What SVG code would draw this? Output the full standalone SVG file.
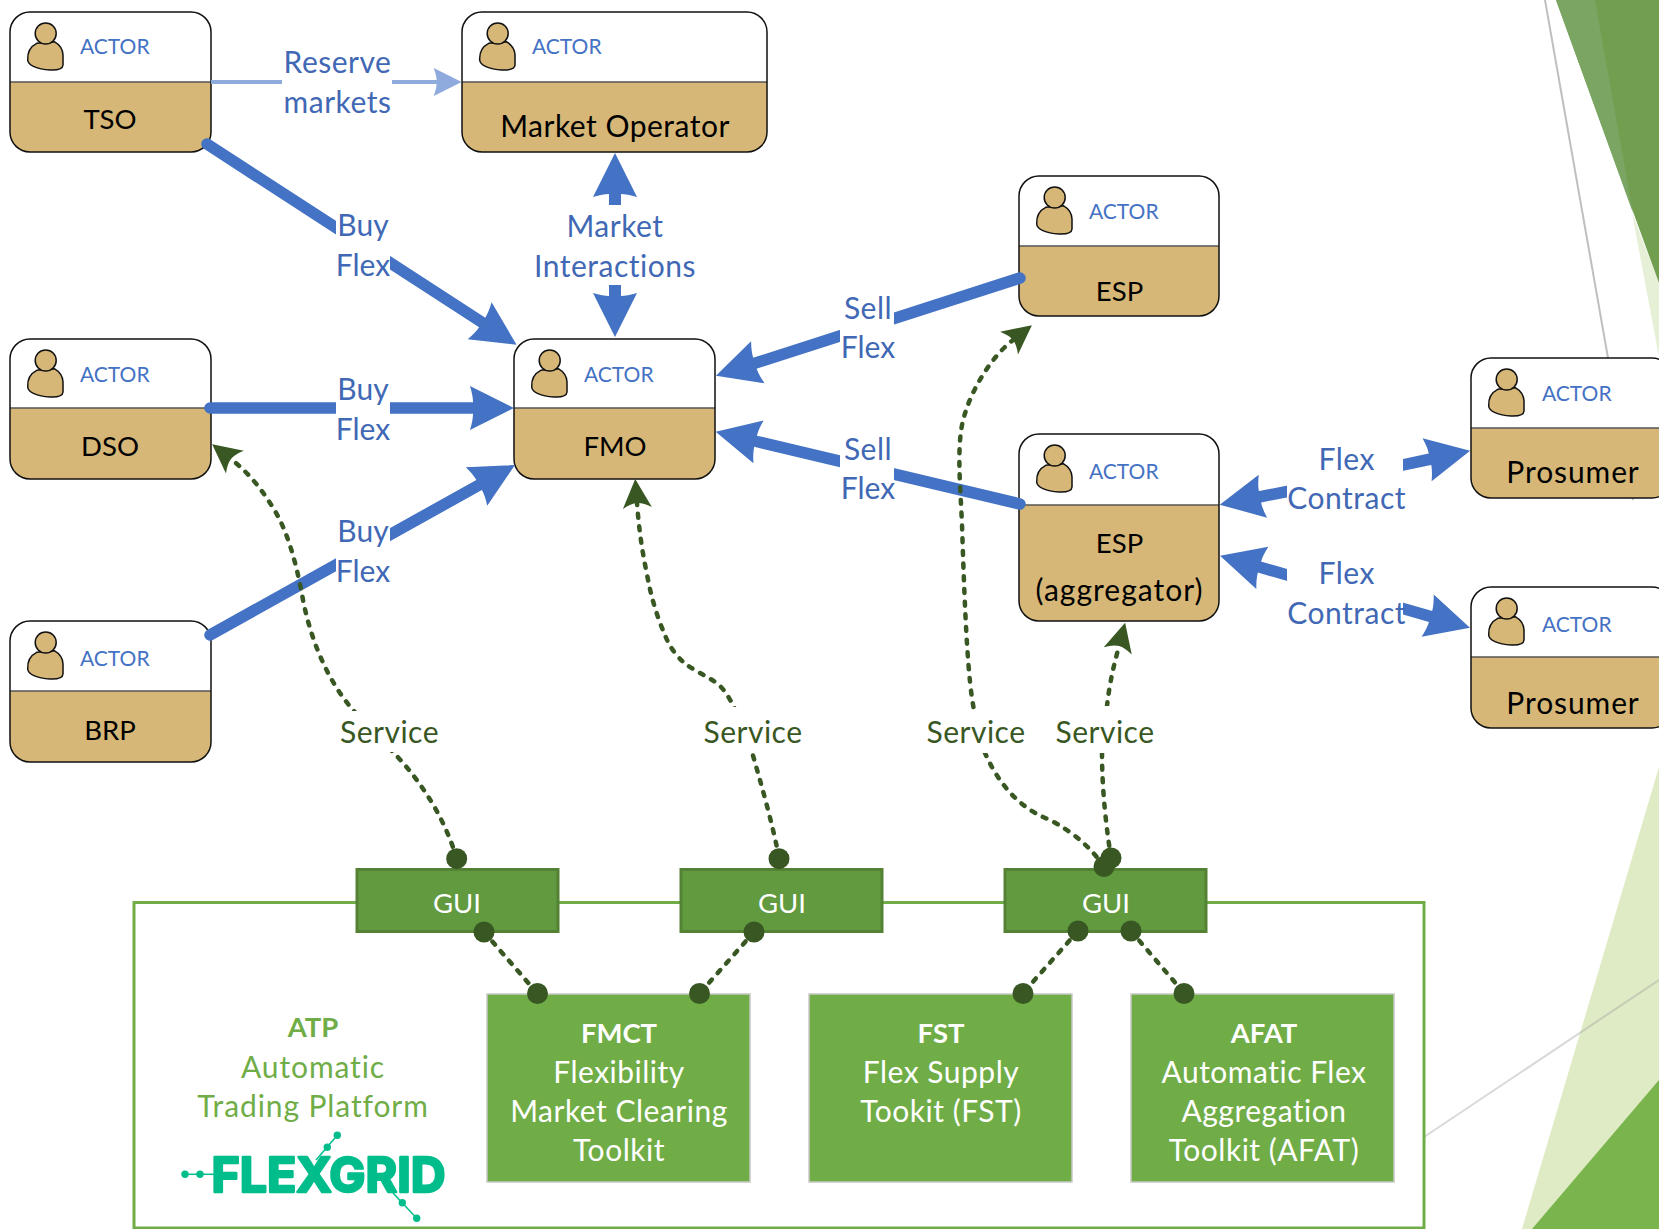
<svg xmlns="http://www.w3.org/2000/svg" width="1659" height="1229" viewBox="0 0 1659 1229">
<style>
text{font-family:Lato,"Liberation Sans",sans-serif;text-anchor:middle;transform:translateY(1px)}
.nm,.lb,.sv,.tl,.at{font-size:30px;letter-spacing:.5px}
.nm{fill:#000}
.ac{font-size:21px;fill:#4472c4;text-anchor:start;transform:translate(-1px,1px)}
.lb{fill:#4168b4}
.sv{fill:#385723}
.tl{fill:#fff}
.at{fill:#70ad47}
.b{font-weight:700}
.u{font-size:27.5px;letter-spacing:0}
.wh{fill:#fff}
.top{fill:#fff}
.tan{fill:#d6b777}
.ol{fill:none;stroke:#111;stroke-width:1.5}
.dv{stroke:#555;stroke-width:1.5}
.bl{fill:none;stroke:#4472c4;stroke-width:11.5;stroke-linecap:round;marker-end:url(#ab)}
.bt{fill:none;stroke:#4472c4;stroke-width:11.5;marker-end:url(#ab)}
.ds{fill:none;stroke:#385723;stroke-width:4.5;stroke-dasharray:4 8.7;stroke-linecap:round}
.dt{fill:#385723}
.gui{fill:#619a3f;stroke:#548235;stroke-width:3}
.tool{fill:#70ad47;stroke:#c8c8c8;stroke-width:1.5}
.lg{fill:#00bd8b}
.lgl{stroke:#00bd8b;stroke-width:1.5}
</style>
<defs>
<marker id="ab" markerUnits="userSpaceOnUse" viewBox="-1 -24 46 48" refX="4" refY="0" markerWidth="46" markerHeight="48" orient="auto-start-reverse"><path fill="#4472c4" d="M44 0L0-22Q3-12 3-6L3 6Q3 12 0 22Z"/></marker>
<marker id="ar" markerUnits="userSpaceOnUse" viewBox="-1 -16 31 32" refX="4" refY="0" markerWidth="31" markerHeight="32" orient="auto"><path fill="#8faadc" d="M28 0L0-14Q3-6 3 0Q3 6 0 14Z"/></marker>
<marker id="ag" markerUnits="userSpaceOnUse" viewBox="-1 -16 31 32" refX="5" refY="0" markerWidth="31" markerHeight="32" orient="auto"><path fill="#385723" d="M29 0L0-14.5Q5-6 5 0Q5 6 0 14.5Z"/></marker>
<g id="person"><path fill="#d6b777" stroke="#111" stroke-width="1.5" d="M26.7 31.3C20 34.7 17.3 41.3 17.7 48C18 53 26.7 57.3 40 58C46.7 58.3 52.7 57.3 53 53L53 43C52.7 36.3 48.3 32 44.3 29.7Z"/><circle cx="35.7" cy="21.5" r="10.5" fill="#d6b777" stroke="#111" stroke-width="1.5"/></g>
</defs>
<rect width="1659" height="1229" fill="#fff"/>
<g id="background">
<polygon points="1632,213 1659,357 1659,283" fill="#e6f0d6"/>
<polygon points="1556,0 1659,283 1659,0" fill="#719e4f"/>
<polygon points="1556,0 1595,0 1633,213" fill="#7aa563"/>
<line x1="1545" y1="0" x2="1633" y2="500" stroke="#bfbfbf" stroke-width="2"/>
<polygon points="1659,767 1659,1229 1522,1229" fill="#deebc4"/>
<polygon points="1659,1080 1659,1229 1532,1229" fill="#7ab44c"/>
<line x1="1424" y1="1137" x2="1659" y2="980" stroke="#a8a8a8" stroke-opacity=".45" stroke-width="2"/>
</g>
<g id="platform">
<rect x="134" y="902.500" width="1290" height="325.500" fill="#fff" stroke="#70ad47" stroke-width="3"/>
<text class="at b u" x="313" y="1036">ATP</text>
<text class="at" x="313" y="1076.500" style="letter-spacing:.9px">Automatic</text>
<text class="at" x="313" y="1116" style="letter-spacing:.9px">Trading Platform</text>
</g>
<g id="flexgrid-logo">
<line class="lgl" x1="185" y1="1174.300" x2="214" y2="1174.300"/>
<line class="lgl" x1="337.300" y1="1135.300" x2="316" y2="1160"/>
<line class="lgl" x1="393" y1="1193" x2="416.700" y2="1218.300"/>
<circle class="lg" cx="185" cy="1174.300" r="3.700"/><circle class="lg" cx="200" cy="1174.300" r="3.700"/>
<circle class="lg" cx="337.300" cy="1135.300" r="3.700"/><circle class="lg" cx="327.300" cy="1147.300" r="3.700"/>
<circle class="lg" cx="402.300" cy="1202.700" r="3.700"/><circle class="lg" cx="416.700" cy="1218.300" r="3.700"/>
<text x="328.500" y="1190.500" font-size="48" font-weight="700" fill="#00bd8b" stroke="#00bd8b" stroke-width="2.500" stroke-linejoin="round" style="font-family:Inter,Lato,sans-serif" textLength="234" lengthAdjust="spacingAndGlyphs">FLEXGRID</text>
</g>
<g id="tso"><rect class="top" x="10" y="12" width="201" height="140" rx="20"/><path class="tan" d="M10 82H211V132a20 20 0 0 1-20 20H30a20 20 0 0 1-20-20Z"/><line class="dv" x1="10" y1="82" x2="211" y2="82"/><rect class="ol" x="10" y="12" width="201" height="140" rx="20"/><use href="#person" x="10" y="12"/><text class="ac" x="81" y="53">ACTOR</text><text class="nm u" x="110" y="128">TSO</text></g>
<g id="market-operator"><rect class="top" x="462" y="12" width="305" height="140" rx="20"/><path class="tan" d="M462 82H767V132a20 20 0 0 1-20 20H482a20 20 0 0 1-20-20Z"/><line class="dv" x1="462" y1="82" x2="767" y2="82"/><rect class="ol" x="462" y="12" width="305" height="140" rx="20"/><use href="#person" x="462" y="12"/><text class="ac" x="533" y="53">ACTOR</text><text class="nm" x="615" y="135.500">Market Operator</text></g>
<g id="esp"><rect class="top" x="1019" y="176" width="200" height="140" rx="20"/><path class="tan" d="M1019 246H1219V296a20 20 0 0 1-20 20H1039a20 20 0 0 1-20-20Z"/><line class="dv" x1="1019" y1="246" x2="1219" y2="246"/><rect class="ol" x="1019" y="176" width="200" height="140" rx="20"/><use href="#person" x="1019" y="176"/><text class="ac" x="1090" y="218">ACTOR</text><text class="nm u" x="1119.500" y="299.500">ESP</text></g>
<g id="dso"><rect class="top" x="10" y="339" width="201" height="140" rx="20"/><path class="tan" d="M10 408H211V459a20 20 0 0 1-20 20H30a20 20 0 0 1-20-20Z"/><line class="dv" x1="10" y1="408" x2="211" y2="408"/><rect class="ol" x="10" y="339" width="201" height="140" rx="20"/><use href="#person" x="10" y="339"/><text class="ac" x="81" y="381">ACTOR</text><text class="nm u" x="110" y="455">DSO</text></g>
<g id="fmo"><rect class="top" x="514" y="339" width="201" height="140" rx="20"/><path class="tan" d="M514 408H715V459a20 20 0 0 1-20 20H534a20 20 0 0 1-20-20Z"/><line class="dv" x1="514" y1="408" x2="715" y2="408"/><rect class="ol" x="514" y="339" width="201" height="140" rx="20"/><use href="#person" x="514" y="339"/><text class="ac" x="585" y="381">ACTOR</text><text class="nm u" x="615" y="455">FMO</text></g>
<g id="brp"><rect class="top" x="10" y="621" width="201" height="141" rx="20"/><path class="tan" d="M10 691H211V742a20 20 0 0 1-20 20H30a20 20 0 0 1-20-20Z"/><line class="dv" x1="10" y1="691" x2="211" y2="691"/><rect class="ol" x="10" y="621" width="201" height="141" rx="20"/><use href="#person" x="10" y="621"/><text class="ac" x="81" y="665">ACTOR</text><text class="nm u" x="110" y="738.500">BRP</text></g>
<g id="esp-aggregator"><rect class="top" x="1019" y="434" width="200" height="187" rx="20"/><path class="tan" d="M1019 505H1219V601a20 20 0 0 1-20 20H1039a20 20 0 0 1-20-20Z"/><line class="dv" x1="1019" y1="505" x2="1219" y2="505"/><rect class="ol" x="1019" y="434" width="200" height="187" rx="20"/><use href="#person" x="1019" y="434"/><text class="ac" x="1090" y="478">ACTOR</text><text class="nm u" x="1119.500" y="552">ESP</text><text class="nm" x="1119.500" y="600" style="letter-spacing:1px">(aggregator)</text></g>
<g id="prosumer-1"><rect class="top" x="1471" y="358" width="201" height="140" rx="20"/><path class="tan" d="M1471 428H1672V478a20 20 0 0 1-20 20H1491a20 20 0 0 1-20-20Z"/><line class="dv" x1="1471" y1="428" x2="1672" y2="428"/><rect class="ol" x="1471" y="358" width="201" height="140" rx="20"/><use href="#person" x="1471" y="358"/><text class="ac" x="1543" y="400">ACTOR</text><text class="nm" x="1573" y="482" style="letter-spacing:.9px">Prosumer</text></g>
<g id="prosumer-2"><rect class="top" x="1471" y="587" width="201" height="141" rx="20"/><path class="tan" d="M1471 657H1672V708a20 20 0 0 1-20 20H1491a20 20 0 0 1-20-20Z"/><line class="dv" x1="1471" y1="657" x2="1672" y2="657"/><rect class="ol" x="1471" y="587" width="201" height="141" rx="20"/><use href="#person" x="1471" y="587"/><text class="ac" x="1543" y="631">ACTOR</text><text class="nm" x="1573" y="713" style="letter-spacing:.9px">Prosumer</text></g>
<g id="gui-1"><rect class="gui" x="357" y="869.500" width="201" height="62"/><text class="tl u" x="457" y="911.500">GUI</text></g>
<g id="gui-2"><rect class="gui" x="681" y="869.500" width="201" height="62"/><text class="tl u" x="782" y="911.500">GUI</text></g>
<g id="gui-3"><rect class="gui" x="1005" y="869.500" width="201" height="62"/><text class="tl u" x="1106" y="911.500">GUI</text></g>
<g id="fmct"><rect class="tool" x="487" y="994" width="263" height="188"/><text class="tl b u" x="619" y="1041.500">FMCT</text><text class="tl" x="619" y="1081.500">Flexibility</text><text class="tl" x="619" y="1121">Market Clearing</text><text class="tl" x="619" y="1160">Toolkit</text></g>
<g id="fst"><rect class="tool" x="809" y="994" width="263" height="188"/><text class="tl b u" x="941" y="1041.500">FST</text><text class="tl" x="941" y="1081.500">Flex Supply</text><text class="tl" x="941" y="1121">Tookit (FST)</text></g>
<g id="afat"><rect class="tool" x="1131" y="994" width="263" height="188"/><text class="tl b u" x="1264" y="1041.500">AFAT</text><text class="tl" x="1264" y="1081.500">Automatic Flex</text><text class="tl" x="1264" y="1121">Aggregation</text><text class="tl" x="1264" y="1160">Toolkit (AFAT)</text></g>
<g id="connectors">
<line x1="211" y1="82" x2="437.700" y2="82" fill="none" stroke="#8faadc" stroke-width="4" marker-end="url(#ar)"/>
<line class="bl" x1="207" y1="144" x2="483" y2="323"/>
<line class="bl" x1="210" y1="408" x2="474" y2="408"/>
<line class="bl" x1="210" y1="635" x2="480" y2="484.500"/>
<line class="bl" x1="1020" y1="278" x2="754" y2="363.500"/>
<line class="bl" x1="1020" y1="504" x2="754.600" y2="441"/>
<line x1="615" y1="193" x2="615" y2="297" fill="none" stroke="#4472c4" stroke-width="12" marker-start="url(#ab)" marker-end="url(#ab)"/>
<line class="bt" x1="1395" y1="466.600" x2="1431" y2="459"/>
<line class="bt" x1="1395" y1="606.200" x2="1431.500" y2="616.700"/>
<line class="bt" x1="1295" y1="490" x2="1259" y2="497"/>
<line class="bt" x1="1295" y1="577.200" x2="1258.500" y2="566.800"/>
<path class="ds" marker-end="url(#ag)" d="M456.700 858.700C446 822 424 784 393 752L353 710C327 680 311 640 303 600C295 555 285 525 270 503C258 484 245 470 231 459"/>
<path class="ds" marker-end="url(#ag)" d="M779 858C773 825 760 780 752 752L734 707C728 695 722 687 716.700 683C708 677 703 675 696.700 671C688 666 684 664 676.700 655C668 645 665 635 660 623C652 600 650 590 646.700 573C642 550 639 530 637 503"/>
<path class="ds" marker-end="url(#ag)" d="M1104 867C1090 845 1065 826 1043 817C1030 811 1004 796 985 753L974 710C968 680 965 620 962 524C960 480 956 440 965 413.600C972 390 990 358 1013 340"/>
<path class="ds" marker-end="url(#ag)" d="M1111 858C1106 825 1102 790 1102 753L1107 706C1110 680 1114 665 1119 646"/>
<line class="ds" x1="484" y1="932" x2="537.500" y2="993.500"/>
<line class="ds" x1="754" y1="932" x2="699.500" y2="993.500"/>
<line class="ds" x1="1078" y1="931" x2="1023" y2="993"/>
<line class="ds" x1="1131" y1="931" x2="1184" y2="993"/>
<g id="connector-labels">
<rect class="wh" x="282" y="50" width="110" height="70"/>
<text class="lb" x="337.500" y="72">Reserve</text><text class="lb" x="337.500" y="112">markets</text>
<rect class="wh" x="336" y="210" width="54" height="70"/>
<text class="lb" x="363" y="235" style="letter-spacing:0">Buy</text><text class="lb" x="363" y="275" style="letter-spacing:0">Flex</text>
<rect class="wh" x="336" y="375" width="54" height="70"/>
<text class="lb" x="363" y="399" style="letter-spacing:0">Buy</text><text class="lb" x="363" y="439" style="letter-spacing:0">Flex</text>
<rect class="wh" x="336" y="515" width="54" height="70"/>
<text class="lb" x="363" y="540.500" style="letter-spacing:0">Buy</text><text class="lb" x="363" y="580.500" style="letter-spacing:0">Flex</text>
<rect class="wh" x="530" y="205" width="170" height="80"/>
<text class="lb" x="615" y="236">Market</text><text class="lb" x="615" y="276">Interactions</text>
<rect class="wh" x="840" y="290" width="54" height="75"/>
<text class="lb" x="868" y="318">Sell</text><text class="lb" x="868" y="357" style="letter-spacing:0">Flex</text>
<rect class="wh" x="840" y="430" width="54" height="75"/>
<text class="lb" x="868" y="459">Sell</text><text class="lb" x="868" y="498" style="letter-spacing:0">Flex</text>
<rect class="wh" x="1287" y="445" width="116" height="75"/>
<text class="lb" x="1346.700" y="469">Flex</text><text class="lb" x="1346.700" y="508">Contract</text>
<rect class="wh" x="1287" y="560" width="116" height="72"/>
<text class="lb" x="1346.700" y="583">Flex</text><text class="lb" x="1346.700" y="623">Contract</text>
<rect class="wh" x="340" y="711" width="98" height="41"/><text class="sv" x="389.500" y="741.500">Service</text>
<rect class="wh" x="704" y="707" width="98" height="45"/><text class="sv" x="753" y="741.500">Service</text>
<rect class="wh" x="927" y="710" width="98" height="43"/><text class="sv" x="976" y="741.500">Service</text>
<rect class="wh" x="1056" y="706" width="98" height="47"/><text class="sv" x="1105" y="741.500">Service</text>
</g>
<circle class="dt" cx="456.700" cy="858.700" r="10.500"/>
<circle class="dt" cx="484" cy="932" r="10.500"/>
<circle class="dt" cx="537.500" cy="993.500" r="10.500"/>
<circle class="dt" cx="779" cy="858.700" r="10.500"/>
<circle class="dt" cx="754" cy="932" r="10.500"/>
<circle class="dt" cx="699.500" cy="993.500" r="10.500"/>
<circle class="dt" cx="1111" cy="858" r="10.500"/>
<circle class="dt" cx="1104" cy="866.500" r="10.500"/>
<circle class="dt" cx="1078" cy="931" r="10.500"/>
<circle class="dt" cx="1131" cy="931" r="10.500"/>
<circle class="dt" cx="1023" cy="993.500" r="10.500"/>
<circle class="dt" cx="1184" cy="993.500" r="10.500"/>
</g>
</svg>
